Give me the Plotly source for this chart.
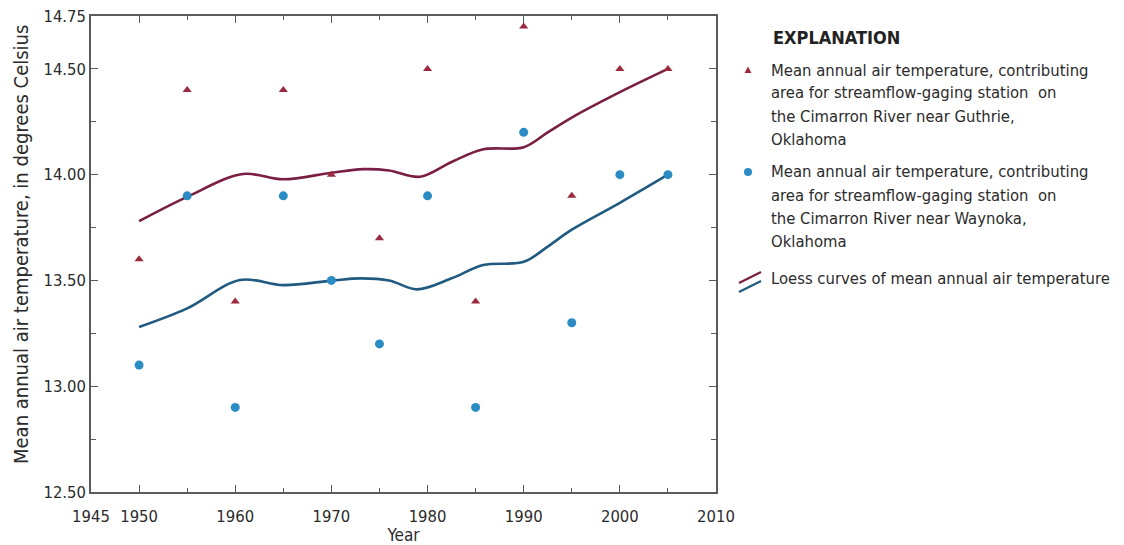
import plotly.graph_objects as go

# Observed mean annual air temperature, 5-year steps
years = [1950, 1955, 1960, 1965, 1970, 1975, 1980, 1985, 1990, 1995, 2000, 2005]
guthrie_temp = [13.6, 14.4, 13.4, 14.4, 14.0, 13.7, 14.5, 13.4, 14.7, 13.9, 14.5, 14.5]
waynoka_temp = [13.1, 13.9, 12.9, 13.9, 13.5, 13.2, 13.9, 12.9, 14.2, 13.3, 14.0, 14.0]

# Loess curves sampled at their turning points
guthrie_loess_x = [1950, 1955, 1960.8, 1965, 1970, 1973.3, 1976, 1979.2, 1982.5, 1985.8, 1990, 1992.5, 1995, 2000, 2005]
guthrie_loess_y = [13.78, 13.895, 14.003, 13.978, 14.009, 14.026, 14.02, 13.99, 14.06, 14.12, 14.13, 14.20, 14.27, 14.39, 14.50]
waynoka_loess_x = [1950, 1955, 1960.5, 1965, 1970, 1973, 1976, 1978.9, 1982.5, 1985.8, 1990, 1992.5, 1995, 2000, 2005]
waynoka_loess_y = [13.28, 13.368, 13.502, 13.478, 13.499, 13.51, 13.50, 13.458, 13.51, 13.573, 13.588, 13.66, 13.74, 13.867, 14.00]

x_tick_vals = [1945, 1950, 1960, 1970, 1980, 1990, 2000, 2010]
y_tick_vals = [12.5, 13.0, 13.5, 14.0, 14.5, 14.75]
y_tick_text = ["12.50", "13.00", "13.50", "14.00", "14.50", "14.75"]

y_title = "Mean annual air temperature, in degrees Celsius"
legend_title = "EXPLANATION"
legend_guthrie = ["Mean annual air temperature, contributing",
                  "area for streamflow-gaging station  on",
                  "the Cimarron River near Guthrie,",
                  "Oklahoma"]
legend_waynoka = ["Mean annual air temperature, contributing",
                  "area for streamflow-gaging station  on",
                  "the Cimarron River near Waynoka,",
                  "Oklahoma"]
legend_loess = "Loess curves of mean annual air temperature"

FONT = "DejaVu Sans Condensed, Liberation Sans Narrow, sans-serif"
RED = "#9b2a3f"
RED_LINE = "#7a1f44"
BLUE = "#2b8cc3"
BLUE_LINE = "#215a80"
AXIS = "#5a5a5a"
TXT = "#2b2b2b"

W, H = 1124, 545
L, R, T, B = 91, 716, 16, 492


def px(x):
    return (x - L) / (R - L)


def py(y):
    return (B - y) / (B - T)


fig = go.Figure()

fig.add_trace(go.Scatter(x=guthrie_loess_x, y=guthrie_loess_y, mode="lines",
                         line=dict(color=RED_LINE, width=2.6, shape="spline", smoothing=1.0),
                         showlegend=False, hoverinfo="skip"))
fig.add_trace(go.Scatter(x=waynoka_loess_x, y=waynoka_loess_y, mode="lines",
                         line=dict(color=BLUE_LINE, width=2.6, shape="spline", smoothing=1.0),
                         showlegend=False, hoverinfo="skip"))
fig.add_trace(go.Scatter(x=years, y=guthrie_temp, mode="markers",
                         marker=dict(symbol="triangle-up", size=8, color=RED),
                         showlegend=False))
fig.add_trace(go.Scatter(x=years, y=waynoka_temp, mode="markers",
                         marker=dict(symbol="circle", size=9, color=BLUE),
                         showlegend=False))

axis_common = dict(showline=True, linecolor=AXIS, linewidth=1.5, mirror="ticks",
                   ticks="inside", tickcolor=AXIS, tickwidth=1.2, ticklen=7,
                   showgrid=False, zeroline=False, automargin=False,
                   tickfont=dict(family=FONT, size=16.5, color=TXT))

fig.update_xaxes(range=[1945, 2010], tickvals=x_tick_vals,
                 minor=dict(dtick=5, tick0=1945, ticks="inside", ticklen=4, tickcolor=AXIS),
                 ticklabelstandoff=8,
                 title=dict(text="Year", font=dict(family=FONT, size=17, color=TXT), standoff=7),
                 **axis_common)
fig.update_yaxes(range=[12.5, 14.75], tickvals=y_tick_vals, ticktext=y_tick_text,
                 minor=dict(dtick=0.25, tick0=12.5, ticks="inside", ticklen=5, tickcolor=AXIS),
                 **axis_common)

annotations = []
annotations.append(dict(x=px(21), y=py(245), xref="paper", yref="paper", xanchor="center",
                        yanchor="middle", showarrow=False, text=y_title, textangle=-90,
                        font=dict(family=FONT, size=20, color=TXT)))
annotations.append(dict(x=px(771), y=py(38), xref="paper", yref="paper", xanchor="left",
                        yanchor="middle", showarrow=False, text="<b>" + legend_title + "</b>",
                        font=dict(family=FONT, size=18, color="#222222")))
line_gap = 23
for i, t in enumerate(legend_guthrie):
    annotations.append(dict(x=px(769), y=py(70 + i * line_gap), xref="paper", yref="paper",
                            xanchor="left", yanchor="middle", showarrow=False, text=t,
                            font=dict(family=FONT, size=16.5, color=TXT)))
for i, t in enumerate(legend_waynoka):
    annotations.append(dict(x=px(769), y=py(172 + i * line_gap), xref="paper", yref="paper",
                            xanchor="left", yanchor="middle", showarrow=False, text=t,
                            font=dict(family=FONT, size=16.5, color=TXT)))
annotations.append(dict(x=px(769), y=py(278), xref="paper", yref="paper", xanchor="left",
                        yanchor="middle", showarrow=False, text=legend_loess,
                        font=dict(family=FONT, size=16.5, color=TXT)))

shapes = []
# legend keys
shapes.append(dict(type="path", xref="paper", yref="paper",
                   path=f"M {px(744.5)} {py(73)} L {px(751.5)} {py(73)} L {px(748)} {py(66.5)} Z",
                   fillcolor=RED, line=dict(width=0)))
shapes.append(dict(type="circle", xref="paper", yref="paper",
                   x0=px(744), x1=px(752), y0=py(176), y1=py(168),
                   fillcolor=BLUE, line=dict(width=0)))
shapes.append(dict(type="line", xref="paper", yref="paper",
                   x0=px(739), y0=py(283), x1=px(761), y1=py(272),
                   line=dict(color=RED_LINE, width=2.2)))
shapes.append(dict(type="line", xref="paper", yref="paper",
                   x0=px(739), y0=py(292), x1=px(761), y1=py(281),
                   line=dict(color=BLUE_LINE, width=2.2)))

fig.update_layout(width=W, height=H,
                  margin=dict(l=L, r=W - R, t=T, b=H - B),
                  plot_bgcolor="white", paper_bgcolor="white",
                  annotations=annotations, shapes=shapes,
                  font=dict(family=FONT, color=TXT))

fig.write_html("out.html")
